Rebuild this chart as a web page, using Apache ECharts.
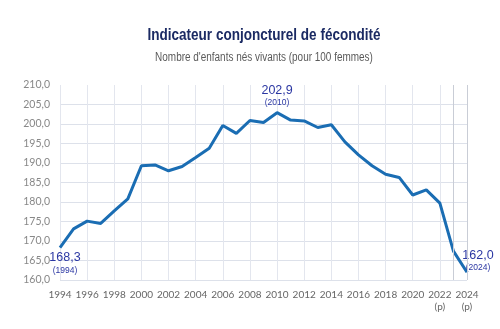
<!DOCTYPE html>
<html><head><meta charset="utf-8">
<script src="https://cdn.jsdelivr.net/npm/echarts@6/dist/echarts.min.js"></script>
<style>html,body{margin:0;padding:0;background:#fff}#c{width:500px;height:329px}</style>
</head><body><div id="c"></div>
<script>
const years = ['1994','1995','1996','1997','1998','1999','2000','2001','2002','2003','2004','2005','2006','2007','2008','2009','2010','2011','2012','2013','2014','2015','2016','2017','2018','2019','2020','2021','2022','2023','2024'];
const icf = [168.3,173.1,175.1,174.5,177.7,180.8,189.3,189.5,188.0,189.1,191.4,193.8,199.6,197.6,200.9,200.4,202.9,201.0,200.8,199.1,199.8,195.4,192.1,189.3,187.1,186.3,181.8,183.1,179.7,167.4,162.0];
const provisional = ['2022','2024'];
const annotated = {'1994':'bottom','2010':'top','2024':'top'};
const titleText = 'Indicateur conjoncturel de fécondité';
const subtitleText = "Nombre d'enfants nés vivants (pour 100 femmes)";
const fmt = v => v.toFixed(1).replace('.', ',');
const sans = "'Liberation Sans',Arial,sans-serif";

const seriesData = icf.map((v, i) => {
  const y = years[i];
  if (!annotated[y]) return v;
  return {
    value: v,
    label: {
      show: true,
      position: annotated[y],
      offset: y === '2024' ? [11, 5] : (y === '1994' ? [5, -1] : [0, 0]),
      distance: 4,
      formatter: '{v|' + fmt(v) + '}\n{y|(' + y + ')}',
      rich: {
        v: {fontFamily: sans, fontSize: 12.5, color: '#2b37a3', lineHeight: 14, align: 'center'},
        y: {fontFamily: sans, fontSize: 8.5, color: '#2b37a3', lineHeight: 11, align: 'center'}
      }
    }
  };
});

const chart = echarts.init(document.getElementById('c'), null, {renderer: 'canvas'});
chart.setOption({
  animation: false,
  graphic: [
    {type: 'text', x: 264, y: 35, scaleX: 0.82, silent: true,
     style: {text: titleText, font: 'bold 16.5px ' + sans, fill: '#1b2a63', textAlign: 'center', textVerticalAlign: 'middle'}},
    {type: 'text', x: 264, y: 58, scaleX: 0.83, silent: true,
     style: {text: subtitleText, font: '12px ' + sans, fill: '#5a5a5a', textAlign: 'center', textVerticalAlign: 'middle'}}
  ],
  grid: {left: 60, right: 33, top: 85, bottom: 49},
  xAxis: {
    type: 'category', data: years, boundaryGap: false,
    axisLine: {show: false}, axisTick: {show: false},
    axisLabel: {
      interval: 1, color: '#666', fontFamily: 'Lato', fontSize: 10, margin: 9, lineHeight: 12,
      formatter: v => provisional.includes(v) ? v + '\n(p)' : v
    },
    splitLine: {show: true, lineStyle: {color: '#e3e6ee', width: 1}}
  },
  yAxis: {
    type: 'value', min: 160, max: 210, interval: 5,
    axisLine: {show: false}, axisTick: {show: false},
    axisLabel: {color: '#888', fontFamily: 'Lato', fontSize: 10.5, margin: 10, formatter: v => fmt(v)},
    splitLine: {show: true, showMaxLine: false, lineStyle: {color: '#dde1ea', width: 1}}
  },
  series: [{
    type: 'line', data: seriesData, symbol: 'circle', symbolSize: 0.1, showSymbol: true,
    itemStyle: {color: '#1a6db3'},
    lineStyle: {color: '#1a6db3', width: 3},
    markLine: {
      silent: true, symbol: 'none', label: {show: false},
      lineStyle: {color: '#c9cdd6', type: 'solid', width: 1},
      data: [{xAxis: '2023'}, {xAxis: '2024'}]
    }
  }]
});
</script></body></html>
